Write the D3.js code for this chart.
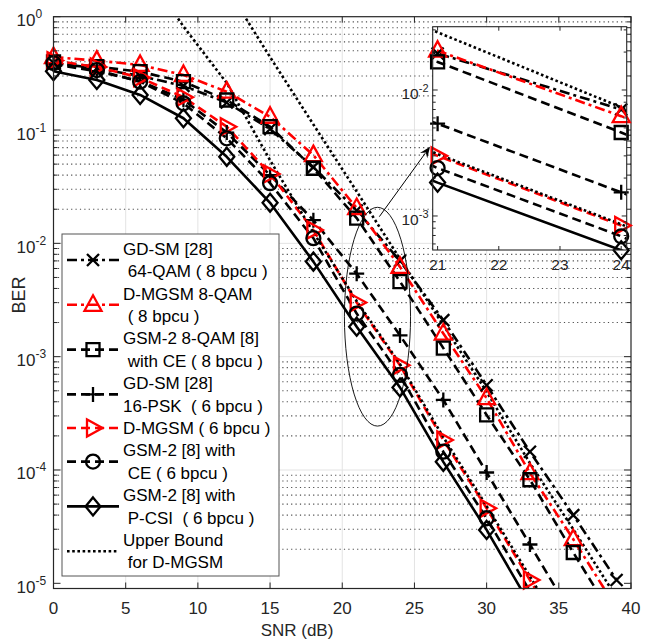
<!DOCTYPE html>
<html><head><meta charset="utf-8">
<script src="https://cdn.jsdelivr.net/npm/d3@7"></script>
<style>body{margin:0;background:#fff}svg{display:block;font-family:"Liberation Sans",Arial,sans-serif}</style>
</head><body><svg id="c" width="650" height="639"></svg>
<script>
// ---------- data ----------
const snr = [0,3,6,9,12,15,18,21,24,27,30,33,36,39];
const gdsm64   = [0.39,0.35,0.30,0.245,0.175,0.102,0.047,0.0195,0.0070,0.0021,5.6e-4,1.45e-4,4.0e-5,1.07e-5];
const dmgsm8   = [0.44,0.41,0.375,0.306,0.218,0.131,0.060,0.0205,0.0062,0.0016,4.3e-4,9.4e-5,2.45e-5,6.0e-6];
const gsm8ce   = [0.40,0.362,0.327,0.267,0.184,0.107,0.046,0.0167,0.0046,0.00119,3.06e-4,8.2e-5,1.87e-5,4.5e-6];
const gdsm16   = [0.38,0.33,0.27,0.185,0.095,0.040,0.016,0.0054,0.00154,4.15e-4,9.5e-5,2.2e-5,5.0e-6,1.2e-6];
const dmgsm6   = [0.41,0.36,0.29,0.195,0.107,0.041,0.0131,0.0030,8.4e-4,1.84e-4,4.6e-5,1.07e-5,2.5e-6,6e-7];
const gsm6ce   = [0.39,0.338,0.267,0.172,0.0845,0.034,0.0111,0.0024,6.9e-4,1.45e-4,3.75e-5,8.5e-6,2e-6,5e-7];
const gsm6pcsi = [0.33,0.276,0.204,0.127,0.058,0.0228,0.0069,0.00184,5.35e-4,1.18e-4,2.96e-5,6.5e-6,1.5e-6,3.5e-7];
const ubSnr8 = [12,15,18,21,24,27,30,33,36,39];
const ub8    = [1.8,0.44,0.112,0.0287,0.0073,1.9e-3,4.9e-4,1.15e-4,3.0e-5,7.5e-6];
const ubSnr6 = [6,9,12,15,18,21,24,27,30,33,36];
const ub6    = [3.0,0.82,0.26,0.054,0.0125,0.0031,8.6e-4,1.95e-4,4.8e-5,1.15e-5,2.7e-6];
const xTicks = [0,5,10,15,20,25,30,35,40];
const yTickExp = [0,-1,-2,-3,-4,-5];
const insetXTicks = [21,22,23,24];
const insetYTickExp = [-2,-3];
const legendLabels = [
  ["GD-SM [28]"," 64-QAM ( 8 bpcu )"],
  ["D-MGSM 8-QAM"," ( 8 bpcu )"],
  ["GSM-2 8-QAM [8]"," with CE ( 8 bpcu )"],
  ["GD-SM [28]","16-PSK  ( 6 bpcu )"],
  ["D-MGSM ( 6 bpcu )"],
  ["GSM-2 [8] with"," CE ( 6 bpcu )"],
  ["GSM-2 [8] with"," P-CSI  ( 6 bpcu )"],
  ["Upper Bound"," for D-MGSM"]
];

// ---------- styles ----------
const DASH = "9,5", DASHDOT = "10,4,3,4", DOT = "2.6,2.6";
const series = [
  {x:snr, v:gdsm64,   color:"#000", dash:DASHDOT, m:"x"},
  {x:snr, v:dmgsm8,   color:"#ff0000", dash:DASHDOT, m:"tu"},
  {x:snr, v:gsm8ce,   color:"#000", dash:DASH, m:"s"},
  {x:snr, v:gdsm16,   color:"#000", dash:DASH, m:"+"},
  {x:snr, v:dmgsm6,   color:"#ff0000", dash:DASH, m:"tr"},
  {x:snr, v:gsm6ce,   color:"#000", dash:DASH, m:"o"},
  {x:snr, v:gsm6pcsi, color:"#000", dash:null, m:"d"},
  {x:ubSnr8, v:ub8,   color:"#000", dash:DOT, m:null},
  {x:ubSnr6, v:ub6,   color:"#000", dash:DOT, m:null}
];

const svg = d3.select("#c");
const TXT = "#262626";
const L=53.5, R=631, T=16.7, B=588.5;
const x = d3.scaleLinear().domain([0,40]).range([L,R]);
const y = d3.scaleLog().domain([9e-6,1]).range([B,T]);

function markerPath(t,cx,cy){
  const p=d3.path();
  if(t==="x"){const s=6;p.moveTo(cx-s,cy-s);p.lineTo(cx+s,cy+s);p.moveTo(cx-s,cy+s);p.lineTo(cx+s,cy-s);}
  else if(t==="+"){const s=7.5;p.moveTo(cx-s,cy);p.lineTo(cx+s,cy);p.moveTo(cx,cy-s);p.lineTo(cx,cy+s);}
  else if(t==="tu"){p.moveTo(cx,cy-9.5);p.lineTo(cx+8.5,cy+6);p.lineTo(cx-8.5,cy+6);p.closePath();}
  else if(t==="tr"){p.moveTo(cx+9.5,cy);p.lineTo(cx-6,cy+8.5);p.lineTo(cx-6,cy-8.5);p.closePath();}
  else if(t==="s"){const s=6.5;p.rect(cx-s,cy-s,2*s,2*s);}
  else if(t==="o"){p.moveTo(cx+7,cy);p.arc(cx,cy,7,0,2*Math.PI);}
  else if(t==="d"){p.moveTo(cx,cy-9);p.lineTo(cx+7.5,cy);p.lineTo(cx,cy+9);p.lineTo(cx-7.5,cy);p.closePath();}
  return p.toString();
}

const defs = svg.append("defs");
defs.append("clipPath").attr("id","mainclip").append("rect").attr("x",L).attr("y",T).attr("width",R-L).attr("height",B-T);

// ---------- grid ----------
const g = svg.append("g");
xTicks.filter(t=>t>0&&t<40).forEach(t=>{
  g.append("line").attr("x1",x(t)).attr("x2",x(t)).attr("y1",T).attr("y2",B).attr("stroke","#e3e3e3").attr("stroke-width",1);
});
for(let e=-6;e<=0;e++){
  for(let k=1;k<=9;k++){
    const v=k*Math.pow(10,e);
    if(v<9e-6*0.999||v>1.0001) continue;
    const yy=y(v);
    if(k===1){ if(e>-5&&e<0) g.append("line").attr("x1",L).attr("x2",R).attr("y1",yy).attr("y2",yy).attr("stroke","#e3e3e3").attr("stroke-width",1);}
    else g.append("line").attr("x1",L).attr("x2",R).attr("y1",yy).attr("y2",yy).attr("stroke","#222").attr("stroke-width",1.1).attr("stroke-dasharray","1.2,3.2").attr("opacity",0.8);
  }
}

// ---------- series ----------
function drawSeries(parent, sx, sy, clipId, filterX){
  const lg = parent.append("g").attr("clip-path",`url(#${clipId})`);
  series.forEach(s=>{
    const pts = s.x.map((xx,i)=>[xx,s.v[i]]);
    const line = d3.line().x(d=>sx(d[0])).y(d=>sy(d[1]));
    lg.append("path").attr("d",line(pts)).attr("fill","none").attr("stroke",s.color)
      .attr("stroke-width",2.6).attr("stroke-dasharray",s.dash).attr("stroke-linejoin","round");
  });
  series.forEach(s=>{
    if(!s.m) return;
    s.x.forEach((xx,i)=>{
      if(!filterX(xx,s.v[i])) return;
      parent.append("path").attr("d",markerPath(s.m,sx(xx),sy(s.v[i]))).attr("fill","none")
        .attr("stroke",s.color).attr("stroke-width",2.3);
    });
  });
}
drawSeries(svg, x, y, "mainclip", (xx,v)=>v>=9e-6&&v<=1);

// ---------- axes frame & ticks ----------
const ax = svg.append("g");
ax.append("rect").attr("x",L).attr("y",T).attr("width",R-L).attr("height",B-T).attr("fill","none").attr("stroke",TXT).attr("stroke-width",1.2);
xTicks.forEach(t=>{
  ax.append("line").attr("x1",x(t)).attr("x2",x(t)).attr("y1",B).attr("y2",B-6).attr("stroke",TXT);
  ax.append("line").attr("x1",x(t)).attr("x2",x(t)).attr("y1",T).attr("y2",T+6).attr("stroke",TXT);
  ax.append("text").attr("x",x(t)).attr("y",613.5).attr("text-anchor","middle").attr("font-size",17).attr("fill",TXT).text(t);
});
for(let e=-6;e<=0;e++){
  for(let k=1;k<=9;k++){
    const v=k*Math.pow(10,e);
    if(v<9e-6*0.999||v>1.0001) continue;
    const len = k===1?7:4, yy=y(v);
    ax.append("line").attr("x1",L).attr("x2",L+len).attr("y1",yy).attr("y2",yy).attr("stroke",TXT);
    ax.append("line").attr("x1",R).attr("x2",R-len).attr("y1",yy).attr("y2",yy).attr("stroke",TXT);
  }
}
yTickExp.forEach(e=>{
  const t=ax.append("text").attr("x",16.5).attr("y",y(Math.pow(10,e))+9.5).attr("font-size",17).attr("fill",TXT);
  t.append("tspan").text("10");
  t.append("tspan").attr("dy",-8).attr("font-size",12).text(e===0?"0":String(e));
});
ax.append("text").attr("x",297).attr("y",635.5).attr("text-anchor","middle").attr("font-size",17).attr("fill",TXT).text("SNR (dB)");
ax.append("text").attr("transform","translate(25,295) rotate(-90)").attr("text-anchor","middle").attr("font-size",18).attr("fill",TXT).text("BER");

// ---------- annotations: ellipse & arrow ----------
const eTop=y(0.0208), eBot=y(2.44e-4);
svg.append("ellipse").attr("cx",x(22.44)).attr("cy",(eTop+eBot)/2).attr("rx",x(22.44)-x(20.15)).attr("ry",(eBot-eTop)/2)
  .attr("fill","none").attr("stroke","#000").attr("stroke-width",0.9);
const a0=[x(22.57),y(0.0172)], a1=[x(26.08),y(0.0713)];
const ang=Math.atan2(a1[1]-a0[1],a1[0]-a0[0]);
svg.append("line").attr("x1",a0[0]).attr("y1",a0[1]).attr("x2",a1[0]-8*Math.cos(ang)).attr("y2",a1[1]-8*Math.sin(ang)).attr("stroke","#000").attr("stroke-width",1);
const hl=11, hw=4.5;
const bx=a1[0]-hl*Math.cos(ang), by=a1[1]-hl*Math.sin(ang);
svg.append("path").attr("d",`M${a1[0]},${a1[1]}L${bx+hw*Math.sin(ang)},${by-hw*Math.cos(ang)}L${bx+0.35*hl*Math.cos(ang)},${by+0.35*hl*Math.sin(ang)}L${bx-hw*Math.sin(ang)},${by+hw*Math.cos(ang)}Z`).attr("fill","#000");

// ---------- inset ----------
const IL=432.7, IR=626.7, IT=26.7, IB=250;
const xi = d3.scaleLinear().domain([20.92,24.09]).range([IL,IR]);
const yi = d3.scaleLog().domain([5.37e-4,0.0318]).range([IB,IT]);
defs.append("clipPath").attr("id","insclip").append("rect").attr("x",IL).attr("y",IT).attr("width",IR-IL).attr("height",IB-IT);
const ins = svg.append("g");
ins.append("rect").attr("x",IL).attr("y",IT).attr("width",IR-IL).attr("height",IB-IT).attr("fill","#fff");
drawSeries(ins, xi, yi, "insclip", (xx,v)=>xx>=21&&xx<=24);
ins.append("rect").attr("x",IL).attr("y",IT).attr("width",IR-IL).attr("height",IB-IT).attr("fill","none").attr("stroke",TXT).attr("stroke-width",1.1);
insetXTicks.forEach(t=>{
  ins.append("line").attr("x1",xi(t)).attr("x2",xi(t)).attr("y1",IB).attr("y2",IB-4).attr("stroke",TXT);
  ins.append("line").attr("x1",xi(t)).attr("x2",xi(t)).attr("y1",IT).attr("y2",IT+4).attr("stroke",TXT);
  ins.append("text").attr("x",xi(t)).attr("y",270).attr("text-anchor","middle").attr("font-size",15.5).attr("fill",TXT).text(t);
});
for(let e=-4;e<=-1;e++){
  for(let k=1;k<=9;k++){
    const v=k*Math.pow(10,e);
    if(v<5.37e-4||v>0.0318) continue;
    const len=k===1?5:3, yy=yi(v);
    ins.append("line").attr("x1",IL).attr("x2",IL+len).attr("y1",yy).attr("y2",yy).attr("stroke",TXT);
    ins.append("line").attr("x1",IR).attr("x2",IR-len).attr("y1",yy).attr("y2",yy).attr("stroke",TXT);
  }
}
insetYTickExp.forEach(e=>{
  const t=ins.append("text").attr("x",401.5).attr("y",yi(Math.pow(10,e))+9).attr("font-size",15.5).attr("fill",TXT);
  t.append("tspan").text("10");
  t.append("tspan").attr("dy",-7).attr("font-size",11).text(String(e));
});

// ---------- legend ----------
const LX=62, LY=234, LW=217, LH=342, lineH=22.4;
const leg = svg.append("g");
leg.append("rect").attr("x",LX).attr("y",LY).attr("width",LW).attr("height",LH).attr("fill","#fff").attr("stroke","#555").attr("stroke-width",1);
let cum=0;
legendLabels.forEach((lab,i)=>{
  const s=series[i];
  const cy = LY+3.6 + (cum + lab.length/2)*lineH;
  cum += lab.length;
  leg.append("line").attr("x1",67).attr("x2",119).attr("y1",cy).attr("y2",cy).attr("stroke",s.color)
    .attr("stroke-width",2.6).attr("stroke-dasharray",s.dash);
  if(s.m) leg.append("path").attr("d",markerPath(s.m,93,cy)).attr("fill","none").attr("stroke",s.color).attr("stroke-width",2.3);
  lab.forEach((txt,j)=>{
    const tc = cy + (j-(lab.length-1)/2)*lineH;
    leg.append("text").attr("x",123).attr("y",tc+6).attr("font-size",17).attr("fill","#000")
      .attr("xml:space","preserve").style("white-space","pre").text(txt);
  });
});
</script></body></html>
